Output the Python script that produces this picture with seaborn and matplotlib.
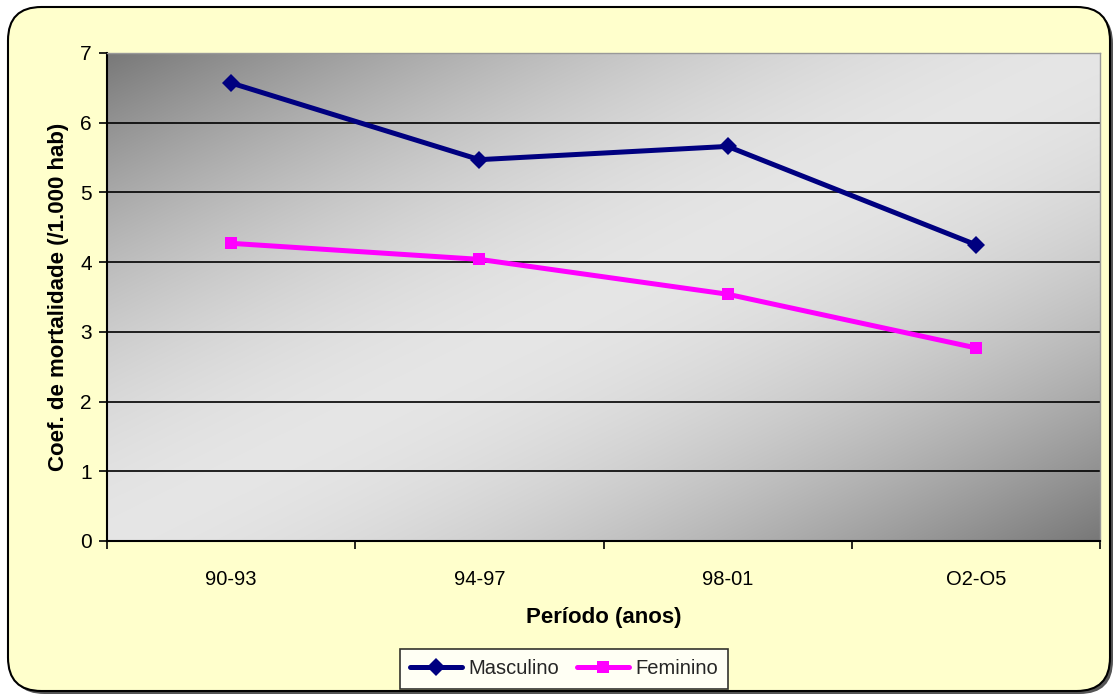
import numpy as np
import pandas as pd
import matplotlib
matplotlib.use("Agg")
import matplotlib.pyplot as plt
from matplotlib.patches import FancyBboxPatch
import seaborn as sns

# Mortality coefficient per 1,000 inhabitants by period and sex
periodos = ["90-93", "94-97", "98-01", "O2-O5"]
masculino = [6.57, 5.47, 5.66, 4.25]
feminino = [4.27, 4.04, 3.54, 2.77]
yticks = [0, 1, 2, 3, 4, 5, 6, 7]

sns.set_theme(style="white")
plt.rcParams["font.family"] = ["Liberation Sans", "DejaVu Sans"]

W, H = 1114, 697
fig = plt.figure(figsize=(W / 100, H / 100), dpi=100)
fig.patch.set_facecolor("white")

# Rounded yellow chart panel with a thin shadow
shadow = FancyBboxPatch((11 / W, 3 / H), 1102 / W, 684 / H,
                        boxstyle="round,pad=0,rounding_size=0.03",
                        transform=fig.transFigure, facecolor="#555555",
                        edgecolor="none", zorder=0, mutation_aspect=W / H)
panel = FancyBboxPatch((8 / W, 6 / H), 1102 / W, 684 / H,
                       boxstyle="round,pad=0,rounding_size=0.03",
                       transform=fig.transFigure, facecolor="#FFFFCC",
                       edgecolor="black", linewidth=1.5, zorder=1,
                       mutation_aspect=W / H)
fig.patches.extend([shadow, panel])

ax = fig.add_axes([107 / W, 1 - 541 / H, (1100 - 107) / W, (541 - 53) / H])
ax.set_zorder(2)

# Diagonal gray gradient: dark corners, light band through the middle
nx, ny = 400, 250
xx, yy = np.meshgrid(np.linspace(0, 1, nx), np.linspace(1, 0, ny))
s = (xx + (1 - yy)) / 2.0
d = np.abs(2 * s - 1)
g = 0.90 - 0.43 * np.clip(d, 0, 1) ** 1.7
img = np.dstack([g, g, g])
ax.imshow(img, extent=[-0.5, 3.5, 0, 7], aspect="auto", zorder=0,
          interpolation="bilinear")

df = pd.DataFrame({"periodo": periodos, "Masculino": masculino,
                   "Feminino": feminino})

sns.lineplot(data=df, x="periodo", y="Masculino", ax=ax, color="#000080",
             linewidth=3.6, marker="D", markersize=9, markeredgewidth=0,
             label="Masculino", zorder=4)
sns.lineplot(data=df, x="periodo", y="Feminino", ax=ax, color="#FF00FF",
             linewidth=3.6, marker="s", markersize=9, markeredgewidth=0,
             label="Feminino", zorder=4)

ax.set_xlim(-0.5, 3.5)
ax.set_ylim(0, 7)
ax.set_yticks(yticks)
ax.set_yticklabels([str(v) for v in yticks])
for v in yticks[1:]:
    ax.axhline(v, color="black", linewidth=1.2, zorder=2)

# Category ticks on boundaries, labels at centers
ax.set_xticks(np.arange(-0.5, 4.0, 1.0))
ax.set_xticklabels([""] * 5)
ax.set_xticks(range(len(periodos)), minor=True)
ax.set_xticklabels(periodos, minor=True)
ax.tick_params(axis="x", which="minor", length=0, pad=21, labelsize=14.5,
               labelcolor="black")
ax.tick_params(axis="x", which="major", direction="out", length=6,
               width=1.2, color="black", bottom=True)
ax.tick_params(axis="y", direction="out", length=6, width=1.2,
               color="black", left=True, labelsize=15, pad=5,
               labelcolor="black")

for side in ["left", "bottom"]:
    ax.spines[side].set_color("black")
    ax.spines[side].set_linewidth(1.5)
for side in ["top", "right"]:
    ax.spines[side].set_color("#999999")
    ax.spines[side].set_linewidth(1.0)

ax.set_xlabel("Período (anos)", fontsize=16, fontweight="bold", labelpad=13,
              color="black")
ax.set_ylabel("Coef. de mortalidade (/1.000 hab)", fontsize=16,
              fontweight="bold", labelpad=8, color="black")

ax.get_legend().remove()
handles, labels = ax.get_legend_handles_labels()
leg = fig.legend(handles, labels, loc="center", ncol=2,
                 bbox_to_anchor=(564 / W, 1 - 669 / H), frameon=True,
                 fancybox=False, edgecolor="black", facecolor="white",
                 fontsize=14.5, handlelength=2.6, columnspacing=0.9,
                 handletextpad=0.3, borderpad=0.5, borderaxespad=0)
leg.get_frame().set_linewidth(1.2)
leg.set_zorder(5)

fig.savefig("out.png", dpi=100, facecolor="white")
